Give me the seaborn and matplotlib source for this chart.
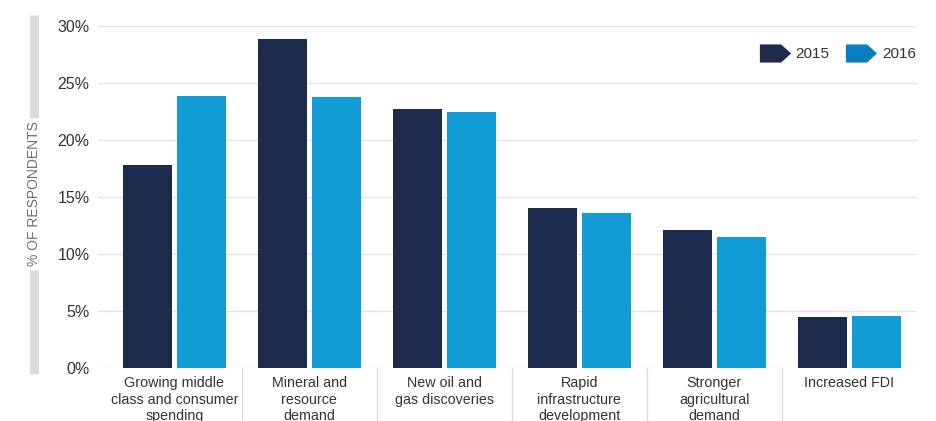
import numpy as np
import pandas as pd
import matplotlib.pyplot as plt
import matplotlib.transforms as mtransforms
from matplotlib.path import Path
from matplotlib.lines import Line2D
import seaborn as sns

# data
categories = [
    "Growing middle\nclass and consumer\nspending",
    "Mineral and\nresource\ndemand",
    "New oil and\ngas discoveries",
    "Rapid\ninfrastructure\ndevelopment",
    "Stronger\nagricultural\ndemand",
    "Increased FDI",
]
values_2015 = [17.8, 28.9, 22.7, 14.0, 12.1, 4.5]
values_2016 = [23.9, 23.8, 22.5, 13.6, 11.5, 4.6]
years = ["2015", "2016"]
y_ticks = [0, 5, 10, 15, 20, 25, 30]

bar_colors = {"2015": "#1c2a4b", "2016": "#129bd4"}
legend_colors = {"2015": "#1c2a4b", "2016": "#0a7dbc"}
text_color = "#333333"

df = pd.DataFrame({
    "category": categories * 2,
    "year": ["2015"] * len(categories) + ["2016"] * len(categories),
    "value": values_2015 + values_2016,
})

sns.set_style("white")
plt.rcParams["font.family"] = ["Liberation Sans", "DejaVu Sans"]

fig = plt.figure(figsize=(9.37, 4.21), dpi=100)
ax = fig.add_axes([98 / 937, 1 - 368 / 421, (917 - 98) / 937, (368 - 26) / 421])

sns.barplot(data=df, x="category", y="value", hue="year", hue_order=years,
            palette=bar_colors, width=0.8, gap=0.1, saturation=1,
            linewidth=0, legend=False, ax=ax)

ax.set_xlim(-0.565, 5.5)
ax.set_ylim(0, 30)
ax.set_yticks(y_ticks)
ax.set_yticklabels([f"{t}%" for t in y_ticks], fontsize=11.5, color=text_color)
ax.tick_params(axis="y", length=0, pad=6)
ax.tick_params(axis="x", length=0, pad=6, labelsize=10.3, labelcolor=text_color)
ax.set_xlabel("")
ax.set_ylabel("")
ax.grid(axis="y", color="#e3e3e3", linewidth=1)
ax.set_axisbelow(True)
for s in ax.spines.values():
    s.set_visible(False)

# separators between categories below the axis
trans = mtransforms.blended_transform_factory(ax.transData, ax.transAxes)
for xs in np.arange(0.5, len(categories) - 1, 1.0):
    ax.plot([xs, xs], [0, -0.16], transform=trans, color="#dddddd",
            linewidth=1, clip_on=False)

# y axis title with grey bars above and below
fig.text(34 / 937, 1 - 194 / 421, "% OF RESPONDENTS", rotation=90,
         ha="center", va="center", fontsize=10, color="#6f6f6f")
for y0, y1 in [(15, 118), (270, 374)]:
    fig.add_artist(Line2D([34 / 937, 34 / 937], [1 - y0 / 421, 1 - y1 / 421],
                          transform=fig.transFigure, color="#dcdcdc",
                          linewidth=6.5, solid_capstyle="butt"))

# legend with arrow-shaped swatches
arrow = Path([(-1, -0.58), (0.36, -0.58), (1, 0), (0.36, 0.58), (-1, 0.58), (-1, -0.58)],
             [Path.MOVETO, Path.LINETO, Path.LINETO, Path.LINETO, Path.LINETO, Path.CLOSEPOLY])
handles = [Line2D([], [], linestyle="none", marker=arrow, markersize=22.5,
                  markerfacecolor=legend_colors[y], markeredgewidth=0)
           for y in years]
ax.legend(handles, years, ncol=2, frameon=False, fontsize=11,
          labelcolor=text_color, loc="center right",
          bbox_to_anchor=(916 / 937, 1 - 54 / 421),
          bbox_transform=fig.transFigure, borderpad=0, borderaxespad=0,
          handlelength=2.0, handletextpad=0.35, columnspacing=1.1)

fig.savefig("out.png", dpi=100)
